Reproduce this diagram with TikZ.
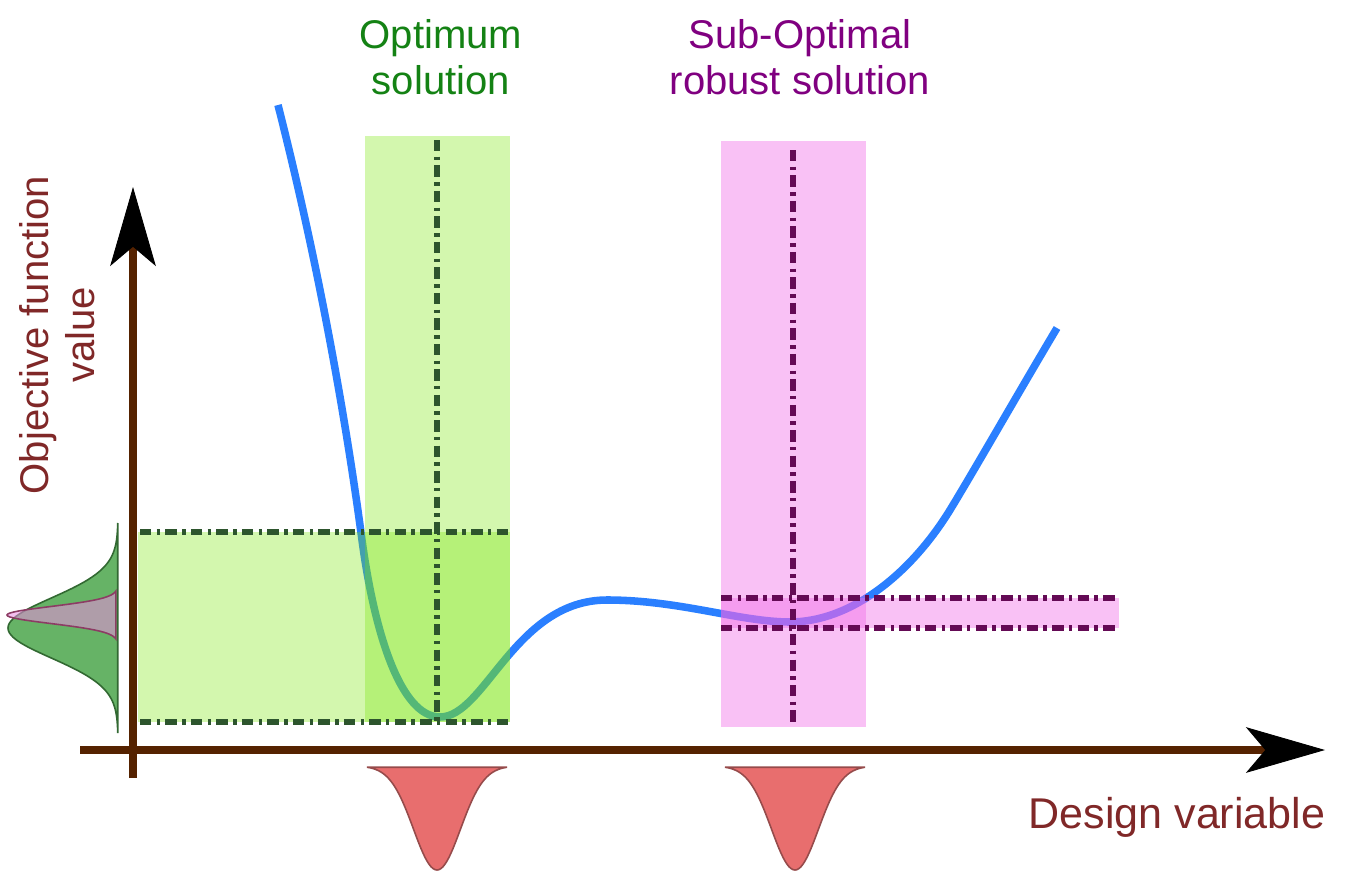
\documentclass[tikz,border=0pt]{standalone}
\usepackage{fontspec}
\setmainfont{Liberation Sans}
\usetikzlibrary{arrows.meta}
\definecolor{axisbrown}{RGB}{85,34,0}
\definecolor{curveblue}{RGB}{42,127,255}
\definecolor{optgreen}{RGB}{20,130,20}
\definecolor{robpurple}{RGB}{128,0,128}
\definecolor{labelred}{RGB}{128,40,40}
\definecolor{bandgreen}{RGB}{120,230,10}
\definecolor{bandpink}{RGB}{240,100,230}
\definecolor{dashgreen}{RGB}{45,85,45}
\definecolor{dashpurple}{RGB}{100,10,85}
\definecolor{pdfred}{RGB}{232,110,110}
\definecolor{pdfredline}{RGB}{150,75,75}
\definecolor{pdfgreen}{RGB}{102,179,102}
\definecolor{pdfgreenline}{RGB}{50,105,50}
\definecolor{pdfpink}{RGB}{235,140,225}
\definecolor{pdfpinkline}{RGB}{140,60,100}

\begin{document}
\begin{tikzpicture}[x=0.02cm, y=-0.02cm, every node/.style={font=\fontsize{22.8}{26.5}\selectfont},
    bandg/.style={fill=bandgreen, fill opacity=0.33},
    bandp/.style={fill=bandpink, fill opacity=0.4},
    dashdot/.style={line width=3pt, dash pattern=on 6.5pt off 3pt on 2pt off 3pt},
    axisline/.style={line width=4pt, axisbrown, -{Stealth[length=45pt, width=26pt, inset=11pt, color=black, line width=0.5pt]}},
    pdfshape/.style={line width=0.9pt}]
    \useasboundingbox (0,0) rectangle (1350,873);
    \draw[curveblue, line width=4.3pt] (278,105) .. controls (325,290) and (350,450) .. (362,540)
      .. controls (374,630) and (400,717) .. (440,717)
      .. controls (485,717) and (515,600) .. (607,600)
      .. controls (680,600) and (740,622) .. (790,622)
      .. controls (850,622) and (910,575) .. (950,510)
      .. controls (975,469) and (1020,390) .. (1057,328);
    \fill[bandg] (138,532) rectangle (510,722);
    \fill[bandg] (365,136) rectangle (510,722);
    \fill[bandp] (721,141) rectangle (866,727);
    \fill[bandp] (721,598) rectangle (1119,628);
    \draw[dashdot, dashgreen] (437,140) -- (437,722);
    \draw[dashdot, dashgreen] (140,532) -- (510,532);
    \draw[dashdot, dashgreen] (140,722) -- (510,722);
    \draw[dashdot, dashpurple] (793,150) -- (793,727);
    \draw[dashdot, dashpurple] (721,598) -- (1119,598);
    \draw[dashdot, dashpurple] (721,628) -- (1119,628);
    \foreach \c in {437,795}
      \draw[pdfshape, draw=pdfredline, fill=pdfred] plot[domain=-70:70, samples=71] ({\c+\x}, {766+104*exp(-0.5*(\x/23.5)*(\x/23.5))}) -- cycle;
    \draw[pdfshape, draw=pdfgreenline, fill=pdfgreen] plot[domain=-105:105, samples=91] ({118-110*exp(-0.5*(\x/30)*(\x/30))}, {628+\x}) -- cycle;
    \draw[pdfshape, draw=pdfpinkline, fill=pdfpink, fill opacity=0.55] plot[domain=-24:24, samples=49] ({118-111*exp(-0.5*(\x/8.5)*(\x/8.5))}, {615+\x}) -- cycle;
    \coordinate (xstart) at (80,750);
    \coordinate (xend) at (1325,750);
    \coordinate (ystart) at (133,778);
    \coordinate (yend) at (133,187);
    \draw[axisline] (xstart) -- (xend);
    \draw[axisline] (ystart) -- (yend);
    \node[optgreen, align=center] (opt) at (441,57) {Optimum\\solution};
    \node[robpurple, align=center] (rob) at (800,57) {Sub-Optimal\\robust solution};
    \node[labelred, align=center, rotate=90] (ylab) at (57,335) {Objective function\\value};
    \node[labelred, font=\fontsize{24.5}{28}\selectfont] (xlab) at (1177,817) {Design variable};
  \end{tikzpicture}
\end{document}
